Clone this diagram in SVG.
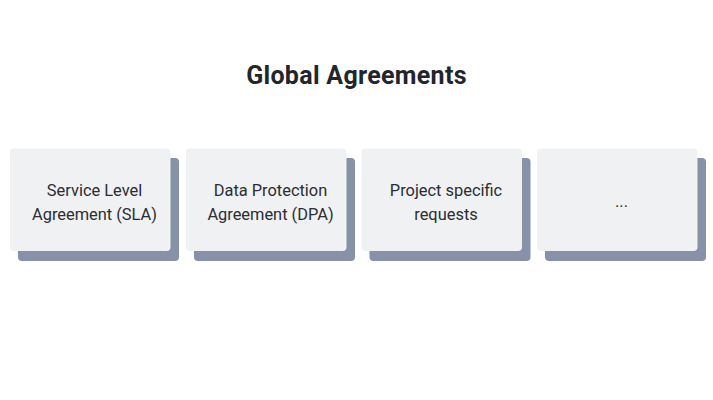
<svg xmlns="http://www.w3.org/2000/svg" width="713" height="400" viewBox="0 0 713 400">
<style>
.sh{fill:#8692a7}
.bx{fill:#f0f1f3}
.t{font-family:Roboto,"Liberation Sans",sans-serif;font-size:16.4px;fill:#2a2d31;text-anchor:middle}
.title{font-family:Roboto,"Liberation Sans",sans-serif;font-size:25px;font-weight:bold;fill:#22262b;text-anchor:middle;letter-spacing:0.3px}
</style>
<rect width="713" height="400" fill="#ffffff"/>
<text class="title" x="356.5" y="84">Global Agreements</text>
<g id="node-sla">
<rect class="sh" x="18" y="158" width="161" height="103" rx="4"/>
<rect class="bx" x="10" y="148.5" width="160.5" height="102.5" rx="4"/>
<text class="t" x="94.5" y="196">Service Level</text>
<text class="t" x="94.5" y="220">Agreement (SLA)</text>
</g>
<g id="node-dpa">
<rect class="sh" x="194" y="158" width="161" height="103" rx="4"/>
<rect class="bx" x="186" y="148.5" width="160.5" height="102.5" rx="4"/>
<text class="t" x="270.5" y="196">Data Protection</text>
<text class="t" x="270.5" y="220">Agreement (DPA)</text>
</g>
<g id="node-project">
<rect class="sh" x="369.5" y="158" width="161" height="103" rx="4"/>
<rect class="bx" x="361.5" y="148.5" width="160.5" height="102.5" rx="4"/>
<text class="t" x="446" y="196">Project specific</text>
<text class="t" x="446" y="220">requests</text>
</g>
<g id="node-more">
<rect class="sh" x="545" y="158" width="161" height="103" rx="4"/>
<rect class="bx" x="537" y="148.5" width="160.5" height="102.5" rx="4"/>
<text class="t" x="621.5" y="207">...</text>
</g>
<g id="connectors"></g>
</svg>
